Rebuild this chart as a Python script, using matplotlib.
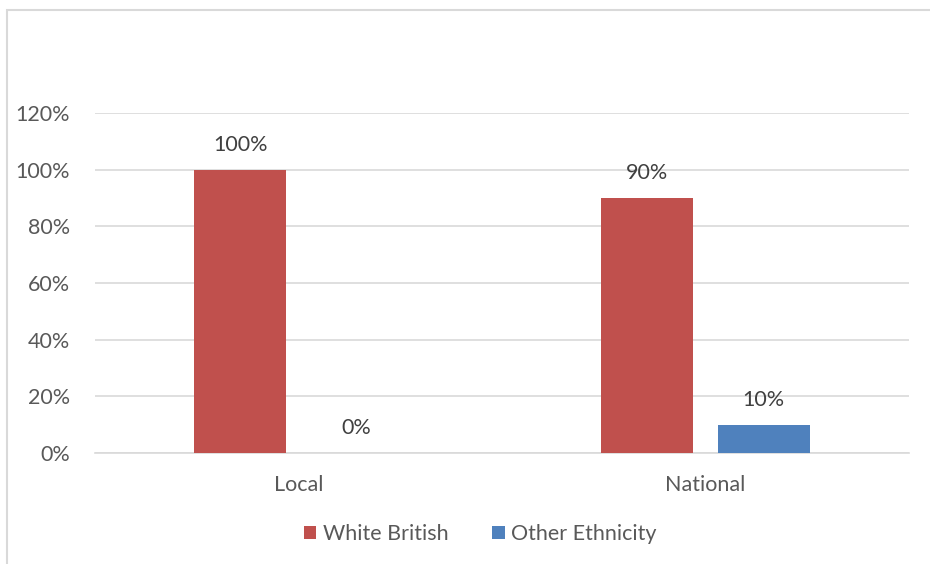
import numpy as np
import matplotlib.pyplot as plt
from matplotlib.patches import Rectangle

categories = ['Local', 'National']
white_british = [1.00, 0.90]
other_ethnicity = [0.00, 0.10]
yticks = [0, 0.2, 0.4, 0.6, 0.8, 1.0, 1.2]
ytick_labels = ['0%', '20%', '40%', '60%', '80%', '100%', '120%']

plt.rcParams['font.family'] = ['Lato', 'DejaVu Sans']
txt = '#595959'
fs = 15.5

fig = plt.figure(figsize=(9.3, 5.64), dpi=100)
# outer chart border (cut off on right/bottom like the source)
fig.patches.append(Rectangle((7 / 930, -0.1), 2, (564 - 10) / 564 + 0.1,
                             transform=fig.transFigure, fill=False,
                             ec='#D9D9D9', lw=1.5))

ax = fig.add_axes([95 / 930, (564 - 453) / 564, (909 - 95) / 930, 340 / 564])
x = np.arange(len(categories))
w = 0.226
off = 0.143
b1 = ax.bar(x - off, white_british, w, color='#C0504D', label='White British', zorder=3)
b2 = ax.bar(x + off, other_ethnicity, w, color='#4F81BD', label='Other Ethnicity', zorder=3)

for bars, vals in ((b1, white_british), (b2, other_ethnicity)):
    for r, v in zip(bars, vals):
        ax.annotate('%d%%' % round(v * 100), (r.get_x() + r.get_width() / 2, v),
                    xytext=(0, 18), textcoords='offset points',
                    ha='center', va='center', fontsize=fs, color='#404040')

ax.set_xlim(-0.5, 1.5)
ax.set_ylim(0, 1.2)
ax.set_yticks(yticks)
ax.set_yticklabels(ytick_labels)
ax.set_xticks(x)
ax.set_xticklabels(categories)
ax.tick_params(axis='y', length=0, pad=18, labelsize=fs, labelcolor=txt)
ax.tick_params(axis='x', length=0, pad=16, labelsize=fs, labelcolor=txt)
ax.yaxis.grid(True, color='#D9D9D9', lw=1.2, zorder=0)
ax.set_axisbelow(True)
for s in ('top', 'right', 'left'):
    ax.spines[s].set_visible(False)
ax.spines['bottom'].set_color('#D9D9D9')
ax.spines['bottom'].set_linewidth(1.2)

fig.legend(handles=[b1, b2], loc='center', bbox_to_anchor=(480 / 930, 1 - 534 / 564),
           ncol=2, frameon=False, fontsize=fs, labelcolor=txt,
           handlelength=0.6, handleheight=0.6, handletextpad=0.3, columnspacing=2.0)

fig.savefig('out.png', dpi=100)
